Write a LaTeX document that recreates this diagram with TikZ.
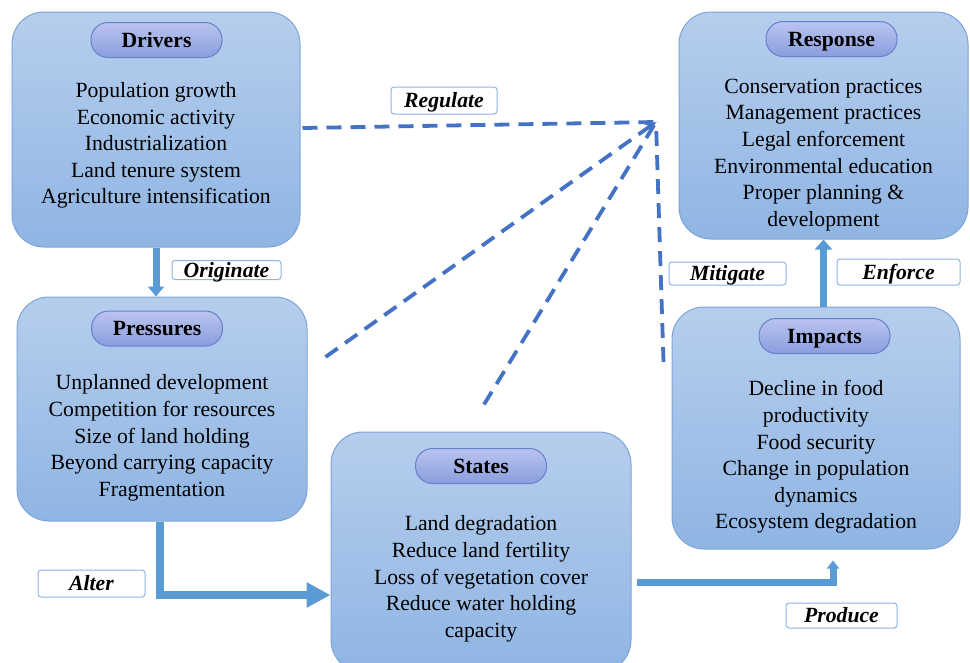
\documentclass[tikz,border=0pt]{standalone}
\usepackage{fontspec}
\setmainfont{Liberation Serif}
\usetikzlibrary{arrows.meta,positioning,calc}
\definecolor{boxtop}{RGB}{182,206,237}
\definecolor{boxbot}{RGB}{143,181,227}
\definecolor{boxline}{RGB}{125,164,216}
\definecolor{pilltop}{RGB}{186,196,238}
\definecolor{pillbot}{RGB}{138,157,222}
\definecolor{pillline}{RGB}{104,128,204}
\definecolor{flowblue}{RGB}{91,155,213}
\definecolor{dashblue}{RGB}{68,114,196}
\definecolor{lblline}{RGB}{142,180,227}

\begin{document}
\begin{tikzpicture}[x=1pt,y=-1pt,
    box/.style={draw=boxline,line width=1pt,top color=boxtop,bottom color=boxbot,rounded corners=32pt},
    pill/.style={draw=pillline,line width=1pt,top color=pilltop,bottom color=pillbot,rounded corners=17pt,
      minimum width=131pt,minimum height=35pt,inner sep=0pt,text height=17pt,text depth=3pt,
      font=\fontsize{21.7}{26}\selectfont\bfseries},
    body/.style={align=center,inner sep=0pt,font=\fontsize{21.7}{26.6}\selectfont},
    lbl/.style={draw=lblline,fill=white,line width=1pt,rounded corners=3pt,inner sep=0pt,
      text height=16.5pt,text depth=2.5pt,font=\fontsize{21.7}{26}\selectfont\bfseries\itshape},
    flow/.style={draw=flowblue,line width=7pt},
    reg/.style={draw=dashblue,line width=3.8pt,dash pattern=on 15pt off 9pt}]
    \useasboundingbox (0,0) rectangle (970,662);

    \node[box,minimum width=288pt,minimum height=235pt] (drivers) at (156,129.5) {};
    \node[pill] (drivers-t) at (156.5,40) {Drivers};
    \node[body] (drivers-b) at ([yshift=-16pt]drivers.center) {Population growth\\Economic activity\\Industrialization\\Land tenure system\\Agriculture intensification};

    \node[box,minimum width=290pt,minimum height=224pt] (pressures) at (162,409) {};
    \node[pill] (pressures-t) at (157,328.5) {Pressures};
    \node[body] (pressures-b) at ([yshift=-29pt]pressures.center) {Unplanned development\\Competition for resources\\Size of land holding\\Beyond carrying capacity\\Fragmentation};

    \node[box,minimum width=300pt,minimum height=240pt] (states) at (481,552) {};
    \node[pill] (states-t) at (481,466) {States};
    \node[body] (states-b) at ([yshift=-27pt]states.center) {Land degradation\\Reduce land fertility\\Loss of vegetation cover\\Reduce water holding\\capacity};

    \node[box,minimum width=289pt,minimum height=227pt] (response) at (823.5,125.5) {};
    \node[pill] (response-t) at (831.5,39) {Response};
    \node[body] (response-b) at ([yshift=-29.5pt]response.center) {Conservation practices\\Management practices\\Legal enforcement\\Environmental education\\Proper planning \&\\development};

    \node[box,minimum width=288pt,minimum height=242pt] (impacts) at (816,428) {};
    \node[pill] (impacts-t) at (824.5,336) {Impacts};
    \node[body] (impacts-b) at ([yshift=-29pt]impacts.center) {Decline in food\\productivity\\Food security\\Change in population\\dynamics\\Ecosystem degradation};

    \node[lbl,minimum width=106pt,minimum height=27pt] (regulate) at (444,100.5) {Regulate};
    \node[lbl,minimum width=109pt,minimum height=19pt] (originate) at (226.5,270) {Originate};
    \node[lbl,minimum width=107pt,minimum height=27pt] (alter) at (91.5,583.5) {Alter};
    \node[lbl,minimum width=117pt,minimum height=23pt] (mitigate) at (727.5,273.5) {Mitigate};
    \node[lbl,minimum width=123pt,minimum height=26pt] (enforce) at (898.5,272) {Enforce};
    \node[lbl,minimum width=111pt,minimum height=25pt] (produce) at (841.5,615.5) {Produce};

    \draw[flow,-{Triangle[width=16pt,length=10pt]}] (drivers.south) -- (drivers.south |- pressures.north);
    \draw[flow,line width=8.5pt,-{Triangle[width=24pt,length=24pt]}] ([xshift=-2pt]pressures.south) |- ([yshift=-43pt]states.west);
    \draw[flow,-{Triangle[width=12pt,length=8pt]}] ([xshift=5pt,yshift=-30pt]states.east) -| ([xshift=17pt,yshift=-11pt]impacts.south);
    \draw[flow,-{Triangle[width=17pt,length=10pt]}] (impacts.north -| response.south) -- (response.south);

    \coordinate (hub) at (656,122);
    \draw[reg] ([xshift=2pt,yshift=1.5pt]drivers.east) -- (hub);
    \draw[reg,-{Stealth[length=11pt,width=11pt]}] ([xshift=18pt,yshift=52pt]pressures.east) -- (hub);
    \draw[reg] ([xshift=3pt,yshift=27pt]states.north) -- (hub);
    \draw[reg] ([xshift=-8pt,yshift=66pt]impacts.west) -- (hub);
  \end{tikzpicture}
\end{document}
